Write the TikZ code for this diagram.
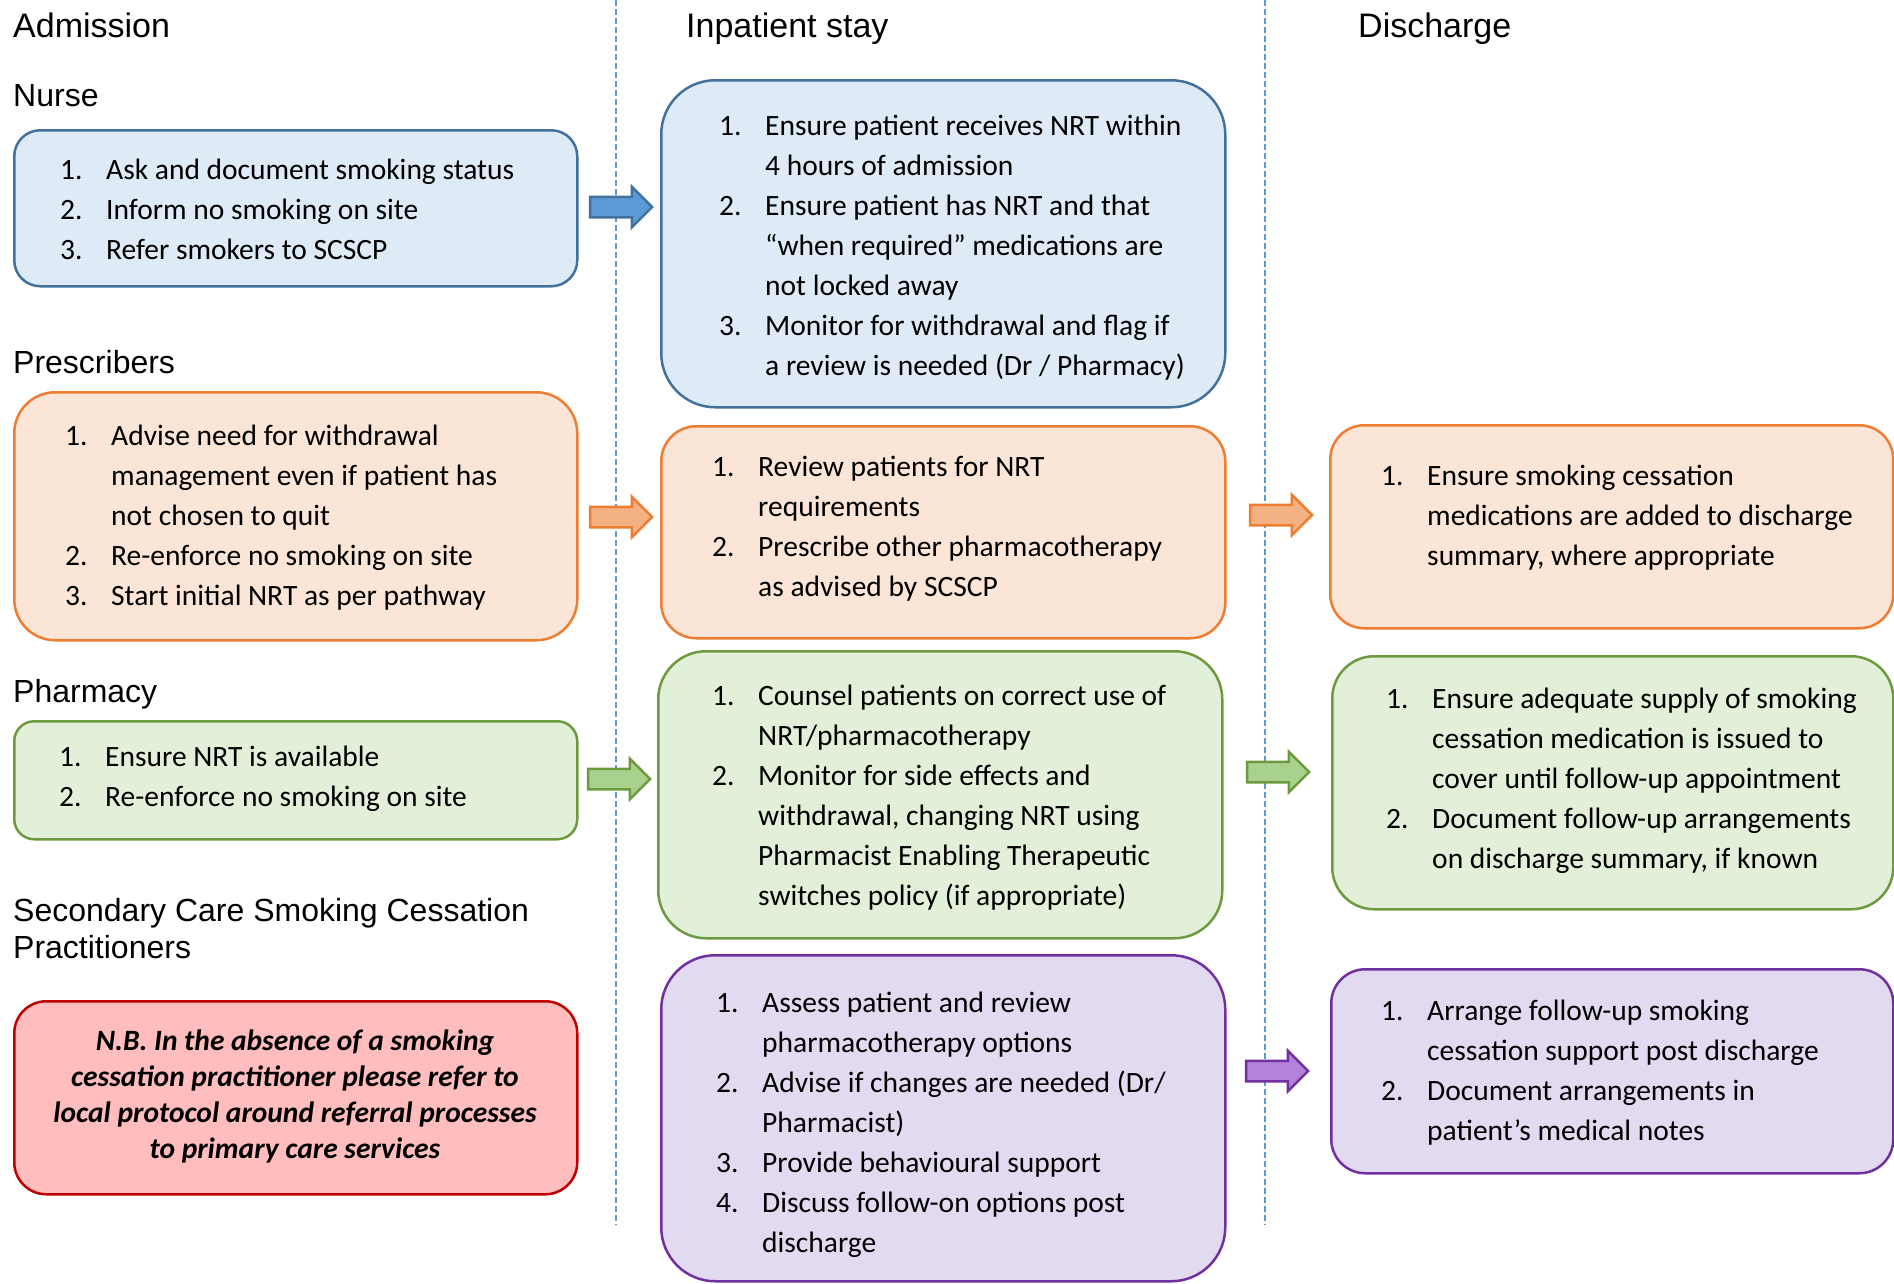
\documentclass[tikz,border=0pt]{standalone}
\usepackage{fontspec}
\setmainfont{Carlito}
\newfontfamily\headfont{Liberation Sans}
\usetikzlibrary{shapes.arrows}

\definecolor{blueline}{HTML}{41719C}
\definecolor{bluefill}{HTML}{DEEBF7}
\definecolor{bluearrow}{HTML}{5B9BD5}
\definecolor{orangeline}{HTML}{ED7D31}
\definecolor{orangefill}{HTML}{FBE5D6}
\definecolor{orangearrow}{HTML}{F4B183}
\definecolor{greenline}{HTML}{6E9A3F}
\definecolor{greenfill}{HTML}{E2F0D9}
\definecolor{greenarrow}{HTML}{A9D18E}
\definecolor{purpleline}{HTML}{7030A0}
\definecolor{purplefill}{HTML}{E2DAF0}
\definecolor{purplearrow}{HTML}{B482DA}
\definecolor{redline}{HTML}{C00000}
\definecolor{redfill}{HTML}{FFBDBD}
\definecolor{sepline}{HTML}{5B9BD5}

\newcommand{\nr}[1]{\makebox[46pt][l]{#1}}
\newcommand{\ct}{\hspace*{46pt}}

\tikzset{
    card/.style 2 args={draw=#1line, fill=#1fill, line width=2.5pt, rounded corners=#2pt, anchor=north west, inner sep=0pt},
    items/.style={anchor=west, align=left, inner sep=0pt, font=\fontsize{29.5}{40}\selectfont},
    colhead/.style={anchor=base west, inner sep=0pt, font=\headfont\fontsize{34}{40}\selectfont},
    role/.style={anchor=base west, inner sep=0pt, align=left, font=\headfont\fontsize{32}{37}\selectfont},
    blockarrow/.style={single arrow, draw=#1line, fill=#1arrow, line width=2.5pt, minimum height=62pt, single arrow head extend=10pt, inner xsep=0pt, inner ysep=9pt},
    colsep/.style={draw=sepline, line width=1.2pt, dash pattern=on 6pt off 3pt},
}

\begin{document}
\begin{tikzpicture}[x=1pt, y=-1pt]
    \useasboundingbox (0,0) rectangle (1894,1283);

    \coordinate (sepAtop) at (616,0);
    \coordinate (sepAbot) at (616,1225);
    \coordinate (sepBtop) at (1265,0);
    \coordinate (sepBbot) at (1265,1225);
    \draw[colsep] (sepAtop) -- (sepAbot);
    \draw[colsep] (sepBtop) -- (sepBbot);

    \node[colhead] (admission) at (13,37) {Admission};
    \node[colhead] (inpatient) at (686,37) {Inpatient stay};
    \node[colhead] (discharge) at (1358,37) {Discharge};

    \node[role] (nurse) at (13,106) {Nurse};
    \node[role] (prescribers) at (13,373) {Prescribers};
    \node[role] (pharmacy) at (13,702) {Pharmacy};
    \node[role] (scscp) at (13,958) {Secondary Care Smoking Cessation\\Practitioners};

    % admission
    \node[card={blue}{26}, minimum width=563pt, minimum height=156pt] (nurseBox) at (13,129) {};
    \node[items] (nurseTxt) at (60,209) {\nr{1.}Ask and document smoking status\\
        \nr{2.}Inform no smoking on site\\
        \nr{3.}Refer smokers to SCSCP};

    \node[card={orange}{41}, minimum width=563pt, minimum height=248pt] (prescBox) at (13,391) {};
    \node[items] (prescTxt) at (65,518) {\nr{1.}Advise need for withdrawal\\
        \ct management even if patient has\\
        \ct not chosen to quit\\
        \nr{2.}Re-enforce no smoking on site\\
        \nr{3.}Start initial NRT as per pathway};

    \node[card={green}{20}, minimum width=563pt, minimum height=118pt] (pharmBox) at (13,720) {};
    \node[items] (pharmTxt) at (59,779) {\nr{1.}Ensure NRT is available\\
        \nr{2.}Re-enforce no smoking on site};

    \node[card={red}{32}, minimum width=563pt, minimum height=193pt] (noteBox) at (13,1000) {};
    \node[align=center, inner sep=0pt, font=\bfseries\itshape\fontsize{29.5}{36}\selectfont] (noteTxt) at (295,1096) {N.B. In the absence of a smoking\\
        cessation practitioner please refer to\\
        local protocol around referral processes\\
        to primary care services};

    % inpatient stay
    \node[card={blue}{54}, minimum width=564pt, minimum height=327pt] (stayNurseBox) at (660,79) {};
    \node[items] (stayNurseTxt) at (719,248) {\nr{1.}Ensure patient receives NRT within\\
        \ct 4 hours of admission\\
        \nr{2.}Ensure patient has NRT and that\\
        \ct “when required” medications are\\
        \ct not locked away\\
        \nr{3.}Monitor for withdrawal and flag if\\
        \ct a review is needed (Dr / Pharmacy)};

    \node[card={orange}{35}, minimum width=564pt, minimum height=212pt] (stayPrescBox) at (660,425) {};
    \node[items] (stayPrescTxt) at (712,529) {\nr{1.}Review patients for NRT\\
        \ct requirements\\
        \nr{2.}Prescribe other pharmacotherapy\\
        \ct as advised by SCSCP};

    \node[card={green}{48}, minimum width=564pt, minimum height=287pt] (stayPharmBox) at (657,650) {};
    \node[items] (stayPharmTxt) at (712,798) {\nr{1.}Counsel patients on correct use of\\
        \ct NRT/pharmacotherapy\\
        \nr{2.}Monitor for side effects and\\
        \ct withdrawal, changing NRT using\\
        \ct Pharmacist Enabling Therapeutic\\
        \ct switches policy (if appropriate)};

    \node[card={purple}{54}, minimum width=564pt, minimum height=326pt] (staySCBox) at (660,954) {};
    \node[items] (staySCTxt) at (716,1125) {\nr{1.}Assess patient and review\\
        \ct pharmacotherapy options\\
        \nr{2.}Advise if changes are needed (Dr/\\
        \ct Pharmacist)\\
        \nr{3.}Provide behavioural support\\
        \nr{4.}Discuss follow-on options post\\
        \ct discharge};

    % discharge
    \node[card={orange}{34}, minimum width=563pt, minimum height=203pt] (dcPrescBox) at (1329,424) {};
    \node[items] (dcPrescTxt) at (1381,518) {\nr{1.}Ensure smoking cessation\\
        \ct medications are added to discharge\\
        \ct summary, where appropriate};

    \node[card={green}{42}, minimum width=561pt, minimum height=253pt] (dcPharmBox) at (1331,655) {};
    \node[items] (dcPharmTxt) at (1386,781) {\nr{1.}Ensure adequate supply of smoking\\
        \ct cessation medication is issued to\\
        \ct cover until follow-up appointment\\
        \nr{2.}Document follow-up arrangements\\
        \ct on discharge summary, if known};

    \node[card={purple}{34}, minimum width=562pt, minimum height=204pt] (dcSCBox) at (1330,968) {};
    \node[items] (dcSCTxt) at (1381,1073) {\nr{1.}Arrange follow-up smoking\\
        \ct cessation support post discharge\\
        \nr{2.}Document arrangements in\\
        \ct patient’s medical notes};

    % block arrows
    \node[blockarrow=blue] (arrNurse) at (616,207) {};
    \node[blockarrow=orange] (arrPresc) at (616,517) {};
    \node[blockarrow=green] (arrPharm) at (614,779) {};
    \node[blockarrow=orange] (arrStayPresc) at (1276,515) {};
    \node[blockarrow=green] (arrStayPharm) at (1273,772) {};
    \node[blockarrow=purple] (arrStaySC) at (1272,1071) {};
\end{tikzpicture}
\end{document}
